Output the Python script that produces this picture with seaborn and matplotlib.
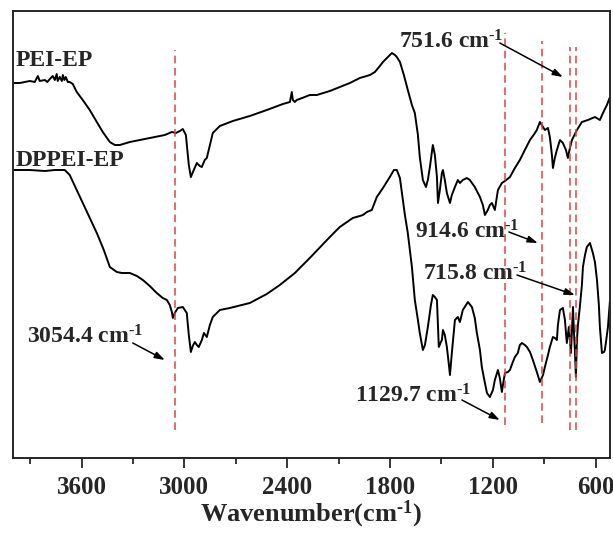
import matplotlib
matplotlib.use("Agg")
import matplotlib.pyplot as plt
import seaborn as sns
import pandas as pd

# ---------------- data ----------------
pei_wn = [4001, 3960, 3931, 3902, 3873, 3855, 3844, 3814, 3800, 3785, 3768, 3756, 3745, 3739, 3727,
          3715, 3709, 3700, 3692, 3680, 3669, 3651, 3628, 3593, 3552, 3511, 3476, 3435, 3406, 3377,
          3318, 3202, 3114,
          3073, 3050, 3026, 3009, 2991, 2974, 2962, 2945, 2927, 2910, 2898, 2881, 2869, 2851,
          2834, 2793, 2717, 2618, 2519, 2425, 2384, 2373, 2367, 2355, 2344, 2297, 2268, 2227,
          2151, 2093, 2034, 1976, 1917, 1888, 1859, 1841, 1812, 1789, 1771, 1760, 1742, 1719,
          1696, 1672, 1655, 1637, 1626, 1608, 1590, 1579, 1567, 1550, 1538, 1526, 1520, 1509,
          1497, 1491, 1480, 1468, 1450, 1439, 1421, 1404, 1392, 1375, 1351, 1334, 1305, 1275,
          1258, 1246, 1229, 1217, 1205, 1188, 1170, 1147, 1129, 1100, 1071, 1042, 1013, 983,
          954, 943, 925, 907, 896, 878, 867, 855, 849, 838, 826, 808, 791, 773, 762, 750, 738,
          709, 680, 645, 604, 575, 557, 534, 516]
pei_t = [375, 375, 376, 377, 376, 382, 377, 378, 376, 379, 382, 378, 384, 377, 381,
         377, 383, 378, 381, 376, 376, 374, 366, 358, 348, 336, 326, 316, 313, 313,
         316, 320, 323,
         326, 325, 327, 329, 323, 293, 281, 288, 295, 292, 291, 298, 300, 313,
         325, 332, 337, 342, 348, 354, 356, 366, 358, 356, 358, 361, 363, 363,
         367, 371, 375, 380, 383, 386, 392, 396, 401, 405, 403, 401, 396, 383,
         368, 353, 345, 323, 301, 278, 271, 278, 291, 313, 303, 281, 255, 268,
         285, 288, 278, 265, 255, 263, 271, 278, 275, 278, 280, 278, 271, 261,
         253, 243, 248, 253, 255, 248, 268, 275, 277, 281, 290, 298, 308, 318,
         325, 328, 336, 331, 328, 330, 321, 303, 290, 300, 308, 318, 315, 308, 300, 310, 318,
         328, 336, 338, 341, 338, 345, 353, 361]

dppei_wn = [4001, 3902, 3814, 3756, 3698, 3669, 3634, 3593, 3552, 3511, 3470, 3435, 3394, 3365,
            3318, 3277, 3242, 3202, 3161, 3126, 3102, 3085, 3073, 3067, 3056, 3038, 3009, 2986,
            2974, 2962, 2951, 2939, 2927, 2916, 2898, 2886, 2869, 2851, 2834, 2793, 2735, 2618,
            2519, 2443, 2384, 2355, 2326, 2268, 2168, 2093, 2017, 1976, 1958, 1935, 1906, 1877,
            1841, 1801, 1777, 1760, 1742, 1725, 1713, 1696, 1684, 1672, 1655, 1637, 1626, 1608,
            1596, 1579, 1561, 1550, 1538, 1526, 1515, 1503, 1497, 1491, 1480, 1468, 1456, 1450,
            1439, 1421, 1404, 1392, 1375, 1345, 1322, 1305, 1293, 1275, 1264, 1246, 1234, 1217,
            1199, 1188, 1170, 1159, 1147, 1141, 1129, 1112, 1100, 1083, 1071, 1054, 1042, 1030,
            1013, 1001, 983, 966, 943, 925, 907, 896, 878, 867, 849, 838, 826, 820, 808, 791,
            779, 768, 762, 756, 750, 744, 738, 732, 727, 721, 715, 709, 703, 692, 680, 674, 662,
            651, 633, 616, 604, 592, 581, 575, 563, 551, 546, 534, 528, 516]
dppei_t = [288, 288, 287, 288, 288, 283, 270, 255, 240, 225, 208, 191, 186, 185,
           185, 182, 178, 172, 165, 160, 158, 153, 146, 140, 145, 150, 151, 145,
           123, 106, 112, 116, 113, 111, 118, 125, 121, 133, 141, 148, 150, 155,
           164, 173, 181, 185, 190, 200, 218, 231, 240, 242, 243, 246, 248, 261,
           270, 281, 288, 288, 280, 258, 243, 225, 208, 191, 158, 138, 125, 108,
           113, 131, 153, 163, 161, 158, 111, 116, 118, 128, 123, 111, 93, 83,
           105, 138, 141, 136, 148, 156, 151, 140, 125, 108, 91, 75, 65, 61,
           68, 78, 88, 80, 66, 73, 85, 86, 88, 96, 101, 105, 113, 115,
           113, 111, 106, 98, 86, 76, 83, 91, 103, 111, 121, 120, 118, 133, 148, 150,
           138, 115, 123, 131, 118, 105, 128, 151, 128, 108, 81, 118, 133, 151, 173, 191, 203,
           211, 215, 205, 196, 178, 153, 131, 105, 106, 108, 123, 131, 158]

series_names = ["PEI-EP", "DPPEI-EP"]
peak_wn = [3054.4, 1129.7, 914.6, 751.6, 715.8]
peak_labels = ["3054.4", "1129.7", "914.6", "751.6", "715.8"]
tick_values = [3600, 3000, 2400, 1800, 1200, 600]
minor_values = [3900, 3300, 2700, 2100, 1500, 900]
unit_sup = r"cm$^{\text{-}1}$"
x_label = "Wavenumber(" + unit_sup + ")"

# ---------------- style ----------------
sns.set_style("ticks")
plt.rcParams["font.family"] = ["Liberation Serif", "DejaVu Serif"]
plt.rcParams["font.weight"] = "bold"
plt.rcParams["mathtext.fontset"] = "custom"
plt.rcParams["mathtext.rm"] = "Liberation Serif:bold"
plt.rcParams["mathtext.it"] = "Liberation Serif:bold"
plt.rcParams["mathtext.bf"] = "Liberation Serif:bold"
plt.rcParams["mathtext.default"] = "regular"

fig = plt.figure(figsize=(6.13, 5.33), dpi=100)
ax = fig.add_axes([13 / 613, 75 / 533, 597 / 613, 447 / 533])

df = pd.concat([
    pd.DataFrame({"wn": pei_wn, "T": pei_t, "sample": series_names[0]}),
    pd.DataFrame({"wn": dppei_wn, "T": dppei_t, "sample": series_names[1]}),
])
sns.lineplot(data=df, x="wn", y="T", units="sample", estimator=None, color="black",
             linewidth=1.4, legend=False, ax=ax)

# red dashed reference lines
line_top = [0.913, 0.951, 0.933, 0.92, 0.92]
line_bot = [0.063, 0.074, 0.078, 0.063, 0.063]
for wn, yb, yt in zip(peak_wn, line_bot, line_top):
    ax.axvline(wn, ymin=yb, ymax=yt, color="#dd4444", linestyle=(0, (5, 3)), linewidth=1.1)

ax.set_xlim(4000, 516)
ax.set_ylim(0, 447)

# series names
ax.text(3984, 398, series_names[0], fontsize=17, fontweight="bold", ha="left", va="center")
ax.text(3984, 298, series_names[1], fontsize=17, fontweight="bold", ha="left", va="center")

# annotations: (label, text pos, arrow start, arrow end)
ann_text = [(3919, 121), (2005, 62), (1655, 226), (1748, 416), (1608, 184)]
ann_start = [(3301, 115), (1380, 58), (1106, 226), (1159, 415), (1059, 183)]
ann_end = [(3114, 98), (1159, 38), (937, 215), (791, 381), (721, 163)]
for lab, tp, sp, ep in zip(peak_labels, ann_text, ann_start, ann_end):
    ax.text(tp[0], tp[1], lab + " " + unit_sup, fontsize=17, fontweight="bold",
            ha="left", va="center")
    ax.annotate("", xy=ep, xytext=sp,
                arrowprops=dict(arrowstyle="-|>,head_length=0.6,head_width=0.2",
                                color="black", lw=1.1, shrinkA=0, shrinkB=0))

# axes styling
ax.set_xticks(tick_values)
ax.set_xticks(minor_values, minor=True)
ax.set_xticklabels([str(v) for v in tick_values])
ax.set_yticks([])
ax.tick_params(axis="x", which="major", direction="out", length=7, width=1.3,
               labelsize=18, pad=6)
ax.tick_params(axis="x", which="minor", direction="out", length=4, width=1.3)
for lbl in ax.get_xticklabels():
    lbl.set_fontweight("bold")
for s in ax.spines.values():
    s.set_linewidth(1.4)
    s.set_visible(True)
ax.set_ylabel("")
ax.set_xlabel(x_label, fontsize=19, fontweight="bold", labelpad=0)

fig.savefig("out.png", dpi=100)
